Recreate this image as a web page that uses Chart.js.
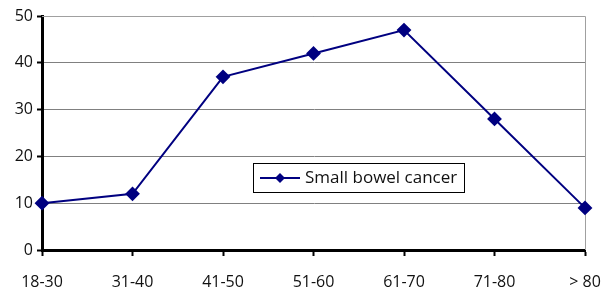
<!DOCTYPE html>
<html>
<head>
<meta charset="utf-8">
<script src="https://cdn.jsdelivr.net/npm/chart.js@4.4.0/dist/chart.umd.min.js"></script>
<style>
  html, body { margin: 0; padding: 0; background: #fff; }
  #wrap { width: 603px; height: 289px; }
</style>
</head>
<body>
<div id="wrap"><canvas id="myChart" width="603" height="289"></canvas></div>
<script>
// Age groups on the x axis
const ageGroups = ['18-30', '31-40', '41-50', '51-60', '61-70', '71-80', '> 80'];
// Number of small bowel cancer cases per age group
const cancerCases = [10, 12, 37, 42, 47, 28, 9];
const seriesName = 'Small bowel cancer';

const navy = '#000080';
const fontFamily = "'Open Sans', 'Liberation Sans', sans-serif";

// Draws the gray frame around the plot area (top and right edges)
const framePlugin = {
  id: 'frame',
  beforeDatasetsDraw(chart) {
    const { ctx, chartArea: a } = chart;
    ctx.save();
    ctx.strokeStyle = '#a0a0a0';
    ctx.lineWidth = 1;
    ctx.beginPath();
    ctx.moveTo(a.left, a.top + 0.5);
    ctx.lineTo(a.right + 0.5, a.top + 0.5);
    ctx.lineTo(a.right + 0.5, a.bottom);
    ctx.stroke();
    ctx.restore();
  }
};

// Legend box placed inside the plot, like the original
const insideLegend = {
  id: 'insideLegend',
  afterDatasetsDraw(chart) {
    const { ctx } = chart;
    const x = 253, y = 163, w = 211, h = 29;
    ctx.save();
    ctx.fillStyle = '#fff';
    ctx.fillRect(x, y, w, h);
    ctx.strokeStyle = '#000';
    ctx.lineWidth = 1;
    ctx.strokeRect(x + 0.5, y + 0.5, w, h);
    // sample line with diamond
    const my = y + h / 2 + 0.5;
    ctx.strokeStyle = navy;
    ctx.lineWidth = 2;
    ctx.beginPath();
    ctx.moveTo(x + 7, my);
    ctx.lineTo(x + 47, my);
    ctx.stroke();
    ctx.fillStyle = navy;
    ctx.beginPath();
    ctx.moveTo(x + 27, my - 5);
    ctx.lineTo(x + 32, my);
    ctx.lineTo(x + 27, my + 5);
    ctx.lineTo(x + 22, my);
    ctx.closePath();
    ctx.fill();
    ctx.fillStyle = '#111';
    ctx.font = '17px ' + fontFamily;
    ctx.textBaseline = 'middle';
    ctx.fillText(seriesName, x + 52, my);
    ctx.restore();
  }
};

const ctx = document.getElementById('myChart').getContext('2d');
const myChart = new Chart(ctx, {
  type: 'line',
  data: {
    labels: ageGroups,
    datasets: [{
      label: seriesName,
      data: cancerCases,
      borderColor: navy,
      backgroundColor: navy,
      borderWidth: 2,
      tension: 0,
      pointStyle: 'rectRot',
      pointRadius: 6,
      pointHoverRadius: 6
    }]
  },
  options: {
    responsive: false,
    animation: false,
    layout: { padding: { top: 16, right: 18, left: 0, bottom: 0 } },
    plugins: {
      legend: { display: false },
      tooltip: { enabled: false }
    },
    scales: {
      x: {
        offset: false,
        grid: {
          drawOnChartArea: false,
          color: '#000',
          tickColor: '#000',
          tickWidth: 2,
          tickLength: 6
        },
        border: { color: '#000', width: 3 },
        ticks: {
          color: '#111',
          font: { family: fontFamily, size: 16 },
          maxRotation: 0,
          padding: 17
        },
        afterFit(scale) {
          scale.height = 39;
          // let the edge labels hang outside the plot, as in the original
          scale.paddingLeft = 0;
          scale.paddingRight = 0;
        }
      },
      y: {
        min: 0,
        max: 50,
        grid: {
          color: '#808080',
          lineWidth: 1,
          tickColor: '#000',
          tickWidth: 2,
          tickLength: 5
        },
        border: { color: '#000', width: 3 },
        ticks: {
          stepSize: 10,
          color: '#111',
          font: { family: fontFamily, size: 16 },
          padding: 4
        },
        afterFit(scale) { scale.width = 42; }
      }
    }
  },
  plugins: [framePlugin, insideLegend]
});
</script>
</body>
</html>
